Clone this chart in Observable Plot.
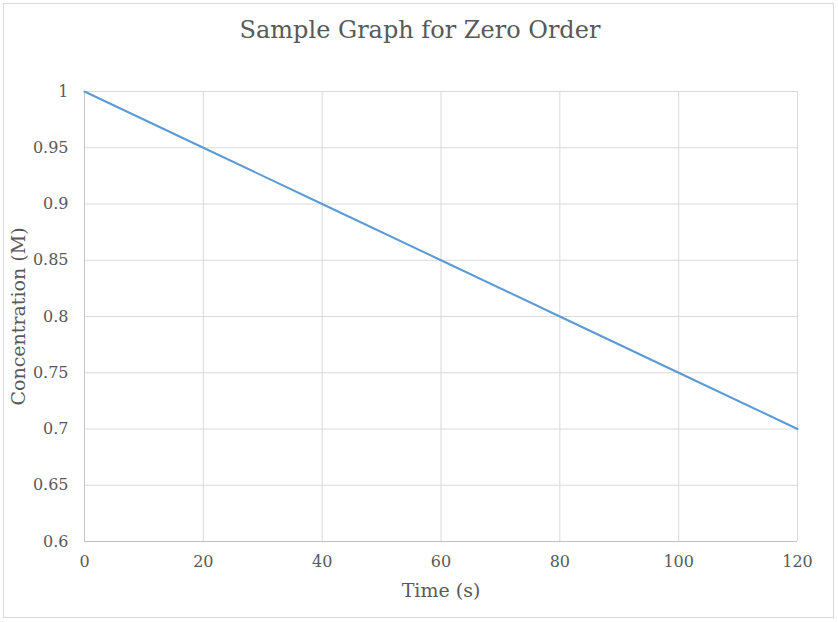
<!DOCTYPE html>
<html>
<head>
<meta charset="utf-8">
<script src="https://cdn.jsdelivr.net/npm/d3@7"></script>
<script src="https://cdn.jsdelivr.net/npm/@observablehq/plot@0.6"></script>
<style>
  html, body { margin: 0; padding: 0; background: #fff; }
  #wrap { position: relative; width: 838px; height: 622px; }
  #frame { position: absolute; left: 3px; top: 3px; width: 829px; height: 613px; border: 1px solid #d9d9d9; pointer-events: none; }
</style>
</head>
<body>
<div id="wrap"><div id="frame"></div></div>
<script>
const titleText = "Sample Graph for Zero Order";
const xLabel = "Time (s)";
const yLabel = "Concentration (M)";
const times = [0, 20, 40, 60, 80, 100, 120];
const concentrations = [1, 0.95, 0.9, 0.85, 0.8, 0.75, 0.7];
const xTicks = [0, 20, 40, 60, 80, 100, 120];
const yTicks = [0.6, 0.65, 0.7, 0.75, 0.8, 0.85, 0.9, 0.95, 1];

const data = times.map((t, i) => ({time: t, conc: concentrations[i]}));

const chart = Plot.plot({
  width: 838,
  height: 622,
  marginLeft: 84,
  marginRight: 41,
  marginTop: 91,
  marginBottom: 81,
  style: {fontFamily: "'DejaVu Serif', serif", fontSize: "16px", color: "#595959", background: "transparent"},
  x: {domain: [0, 120]},
  y: {domain: [0.6, 1]},
  marks: [
    Plot.gridX(xTicks, {stroke: "#d9d9d9", strokeOpacity: 1}),
    Plot.gridY(yTicks, {stroke: "#d9d9d9", strokeOpacity: 1}),
    Plot.ruleY([0.6], {stroke: "#bfbfbf"}),
    Plot.ruleX([0], {stroke: "#c8c8c8"}),
    Plot.axisX(xTicks, {tickSize: 0, tickPadding: 14, label: null, fill: "#595959", fontSize: 16}),
    Plot.axisY(yTicks, {tickSize: 0, tickPadding: 16, tickFormat: d3.format("~g"), label: null, fill: "#595959", fontSize: 16}),
    Plot.line(data, {x: "time", y: "conc", stroke: "#5b9bd5", strokeWidth: 2}),
    Plot.text([titleText], {frameAnchor: "top", lineAnchor: "middle", dy: -61, dx: -21, fontSize: 24, fill: "#595959"}),
    Plot.text([xLabel], {frameAnchor: "bottom", lineAnchor: "middle", dy: 49, fontSize: 19, fill: "#595959"}),
    Plot.text([yLabel], {frameAnchor: "left", textAnchor: "middle", lineAnchor: "middle", dx: -66, rotate: -90, fontSize: 19, fill: "#595959"})
  ]
});
document.getElementById("wrap").prepend(chart);
</script>
</body>
</html>
